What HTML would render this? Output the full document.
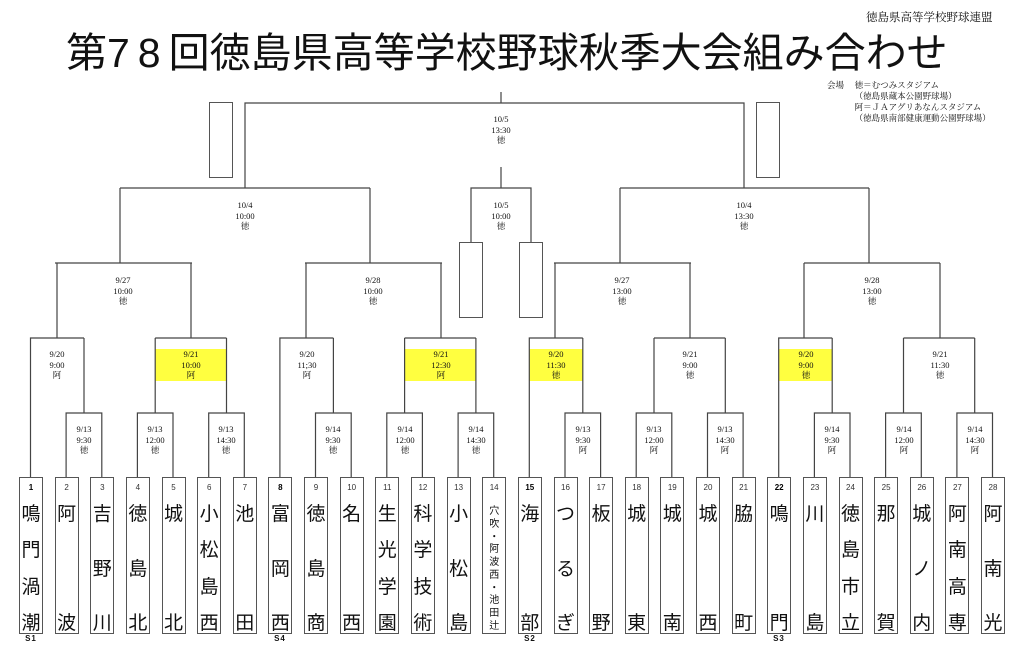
<!DOCTYPE html>
<html><head><meta charset="utf-8"><style>
body{margin:0;width:1024px;height:658px;background:#fff;position:relative;overflow:hidden;font-family:"Liberation Serif","Noto Serif CJK SC","Noto Sans CJK JP",serif;color:#111}
.a{position:absolute}
.t{position:absolute;top:28px;left:66px;font-family:"Liberation Sans","Noto Sans CJK JP",sans-serif;font-size:41px;line-height:50px;white-space:nowrap}
.t span{letter-spacing:8px}
.lb{position:absolute;width:64px;text-align:center;font-size:8.5px;line-height:10.5px}
.y{position:absolute;background:#ffff40;height:32px;top:349px}
.b{position:absolute;top:477px;width:22px;height:155px;border:1px solid #555;background:#fff}
.b .n{position:absolute;top:5px;width:100%;text-align:center;font-family:"Liberation Sans",sans-serif;font-size:8px;line-height:9px;color:#333}
.b .n.k{font-weight:bold;color:#000}
.b .c{position:absolute;top:24px;bottom:0;left:0;right:0;display:flex;flex-direction:column;justify-content:space-between;align-items:center;font-family:"Noto Sans CJK JP",sans-serif;font-size:19px;line-height:22px}
.b .c.s{top:26px;bottom:2px;font-size:10px;line-height:12px}
.s1{position:absolute;top:634px;font-family:"Liberation Sans",sans-serif;font-size:8px;font-weight:bold;width:24px;text-align:center;letter-spacing:1px}
.e{position:absolute;border:1px solid #555;width:22px;height:74px}
</style></head><body>
<div class="a" style="left:866px;top:9px;font-size:11.5px;font-family:'Noto Serif CJK SC','Noto Sans CJK JP',serif">徳島県高等学校野球連盟</div>
<div class="t">第<span>78</span>回徳島県高等学校野球秋季大会組み合わせ</div>
<div class="a" style="left:827px;top:80px;font-size:8.5px;line-height:11px;white-space:pre">会場　 徳＝むつみスタジアム
　　　 （徳島県蔵本公園野球場）
　　　 阿＝ＪＡアグリあなんスタジアム
　　　 （徳島県南部健康運動公園野球場）</div>

<div class="y" style="left:155px;width:72px"></div>
<div class="y" style="left:405px;width:71px"></div>
<div class="y" style="left:529px;width:54px"></div>
<div class="y" style="left:779px;width:53px"></div>

<svg class="a" style="left:0;top:0" width="1024" height="658">
<g stroke="#444" stroke-width="1.2" fill="none">
<path d="M66.1 477V413H101.8V477M84 413V338"/>
<path d="M137.4 477V413H173V477M155.2 413V338"/>
<path d="M208.7 477V413H244.3V477M226.5 413V338"/>
<path d="M315.5 477V413H351.2V477M333.4 413V338"/>
<path d="M386.8 477V413H422.4V477M404.6 413V338"/>
<path d="M458.1 477V413H493.7V477M475.9 413V338"/>
<path d="M565 477V413H600.6V477M582.8 413V338"/>
<path d="M636.2 477V413H671.8V477M654 413V338"/>
<path d="M707.5 477V413H743.1V477M725.3 413V338"/>
<path d="M814.4 477V413H850V477M832.2 413V338"/>
<path d="M885.6 477V413H921.3V477M903.5 413V338"/>
<path d="M956.9 477V413H992.5V477M974.7 413V338"/>
<path d="M30.5 477V338H84M57 338V263"/>
<path d="M155.2 338H226.5M191 338V263"/>
<path d="M279.9 477V338H333.4M306 338V263"/>
<path d="M404.6 338H475.9M441 338V263"/>
<path d="M529.3 477V338H582.8M555 338V263"/>
<path d="M654 338H725.3M690 338V263"/>
<path d="M778.7 477V338H832.2M804 338V263"/>
<path d="M903.5 338H974.7M940 338V263"/>
<path d="M55 263H192M120 263V188"/>
<path d="M305 263H442M370 263V188"/>
<path d="M554 263H691M620 263V188"/>
<path d="M804 263H940M869 263V188"/>
<path d="M120 188H370M245 188V103H744V188H620M869 188H744"/>
<path d="M501 103V92M501 167V188M471 242V188H531V242"/>
</g>
</svg>
<div class="e" style="left:209px;top:102px"></div>
<div class="e" style="left:756px;top:102px"></div>
<div class="e" style="left:459px;top:242px"></div>
<div class="e" style="left:519px;top:242px"></div>

<div class="lb" style="left:469px;top:114px">10/5<br>13:30<br>徳</div>
<div class="lb" style="left:469px;top:200px">10/5<br>10:00<br>徳</div>
<div class="lb" style="left:213px;top:200px">10/4<br>10:00<br>徳</div>
<div class="lb" style="left:712px;top:200px">10/4<br>13:30<br>徳</div>
<div class="lb" style="left:91px;top:275px">9/27<br>10:00<br>徳</div>
<div class="lb" style="left:341px;top:275px">9/28<br>10:00<br>徳</div>
<div class="lb" style="left:590px;top:275px">9/27<br>13:00<br>徳</div>
<div class="lb" style="left:840px;top:275px">9/28<br>13:00<br>徳</div>

<div class="lb" style="left:25px;top:349px">9/20<br>9:00<br>阿</div>
<div class="lb" style="left:159px;top:349px">9/21<br>10:00<br>阿</div>
<div class="lb" style="left:275px;top:349px">9/20<br>11;30<br>阿</div>
<div class="lb" style="left:409px;top:349px">9/21<br>12:30<br>阿</div>
<div class="lb" style="left:524px;top:349px">9/20<br>11:30<br>徳</div>
<div class="lb" style="left:658px;top:349px">9/21<br>9:00<br>徳</div>
<div class="lb" style="left:774px;top:349px">9/20<br>9:00<br>徳</div>
<div class="lb" style="left:908px;top:349px">9/21<br>11:30<br>徳</div>

<div class="lb" style="left:52px;top:424px">9/13<br>9:30<br>徳</div>
<div class="lb" style="left:123px;top:424px">9/13<br>12:00<br>徳</div>
<div class="lb" style="left:194px;top:424px">9/13<br>14:30<br>徳</div>
<div class="lb" style="left:301px;top:424px">9/14<br>9:30<br>徳</div>
<div class="lb" style="left:373px;top:424px">9/14<br>12:00<br>徳</div>
<div class="lb" style="left:444px;top:424px">9/14<br>14:30<br>徳</div>
<div class="lb" style="left:551px;top:424px">9/13<br>9:30<br>阿</div>
<div class="lb" style="left:622px;top:424px">9/13<br>12:00<br>阿</div>
<div class="lb" style="left:693px;top:424px">9/13<br>14:30<br>阿</div>
<div class="lb" style="left:800px;top:424px">9/14<br>9:30<br>阿</div>
<div class="lb" style="left:872px;top:424px">9/14<br>12:00<br>阿</div>
<div class="lb" style="left:943px;top:424px">9/14<br>14:30<br>阿</div>

<div class="b" style="left:19px"><div class="n k">1</div><div class="c"><span>鳴</span><span>門</span><span>渦</span><span>潮</span></div></div>
<div class="b" style="left:54.6px"><div class="n">2</div><div class="c"><span>阿</span><span>波</span></div></div>
<div class="b" style="left:90.3px"><div class="n">3</div><div class="c"><span>吉</span><span>野</span><span>川</span></div></div>
<div class="b" style="left:125.9px"><div class="n">4</div><div class="c"><span>徳</span><span>島</span><span>北</span></div></div>
<div class="b" style="left:161.5px"><div class="n">5</div><div class="c"><span>城</span><span>北</span></div></div>
<div class="b" style="left:197.2px"><div class="n">6</div><div class="c"><span>小</span><span>松</span><span>島</span><span>西</span></div></div>
<div class="b" style="left:232.8px"><div class="n">7</div><div class="c"><span>池</span><span>田</span></div></div>
<div class="b" style="left:268.4px"><div class="n k">8</div><div class="c"><span>富</span><span>岡</span><span>西</span></div></div>
<div class="b" style="left:304px"><div class="n">9</div><div class="c"><span>徳</span><span>島</span><span>商</span></div></div>
<div class="b" style="left:339.7px"><div class="n">10</div><div class="c"><span>名</span><span>西</span></div></div>
<div class="b" style="left:375.3px"><div class="n">11</div><div class="c"><span>生</span><span>光</span><span>学</span><span>園</span></div></div>
<div class="b" style="left:410.9px"><div class="n">12</div><div class="c"><span>科</span><span>学</span><span>技</span><span>術</span></div></div>
<div class="b" style="left:446.6px"><div class="n">13</div><div class="c"><span>小</span><span>松</span><span>島</span></div></div>
<div class="b" style="left:482.2px"><div class="n">14</div><div class="c s"><span>穴</span><span>吹</span><span>・</span><span>阿</span><span>波</span><span>西</span><span>・</span><span>池</span><span>田</span><span>辻</span></div></div>
<div class="b" style="left:517.8px"><div class="n k">15</div><div class="c"><span>海</span><span>部</span></div></div>
<div class="b" style="left:553.5px"><div class="n">16</div><div class="c"><span>つ</span><span>る</span><span>ぎ</span></div></div>
<div class="b" style="left:589.1px"><div class="n">17</div><div class="c"><span>板</span><span>野</span></div></div>
<div class="b" style="left:624.7px"><div class="n">18</div><div class="c"><span>城</span><span>東</span></div></div>
<div class="b" style="left:660.3px"><div class="n">19</div><div class="c"><span>城</span><span>南</span></div></div>
<div class="b" style="left:696px"><div class="n">20</div><div class="c"><span>城</span><span>西</span></div></div>
<div class="b" style="left:731.6px"><div class="n">21</div><div class="c"><span>脇</span><span>町</span></div></div>
<div class="b" style="left:767.2px"><div class="n k">22</div><div class="c"><span>鳴</span><span>門</span></div></div>
<div class="b" style="left:802.9px"><div class="n">23</div><div class="c"><span>川</span><span>島</span></div></div>
<div class="b" style="left:838.5px"><div class="n">24</div><div class="c"><span>徳</span><span>島</span><span>市</span><span>立</span></div></div>
<div class="b" style="left:874.1px"><div class="n">25</div><div class="c"><span>那</span><span>賀</span></div></div>
<div class="b" style="left:909.8px"><div class="n">26</div><div class="c"><span>城</span><span>ノ</span><span>内</span></div></div>
<div class="b" style="left:945.4px"><div class="n">27</div><div class="c"><span>阿</span><span>南</span><span>高</span><span>専</span></div></div>
<div class="b" style="left:981px"><div class="n">28</div><div class="c"><span>阿</span><span>南</span><span>光</span></div></div>

<div class="s1" style="left:19px">S1</div>
<div class="s1" style="left:268px">S4</div>
<div class="s1" style="left:518px">S2</div>
<div class="s1" style="left:767px">S3</div>
</body></html>
